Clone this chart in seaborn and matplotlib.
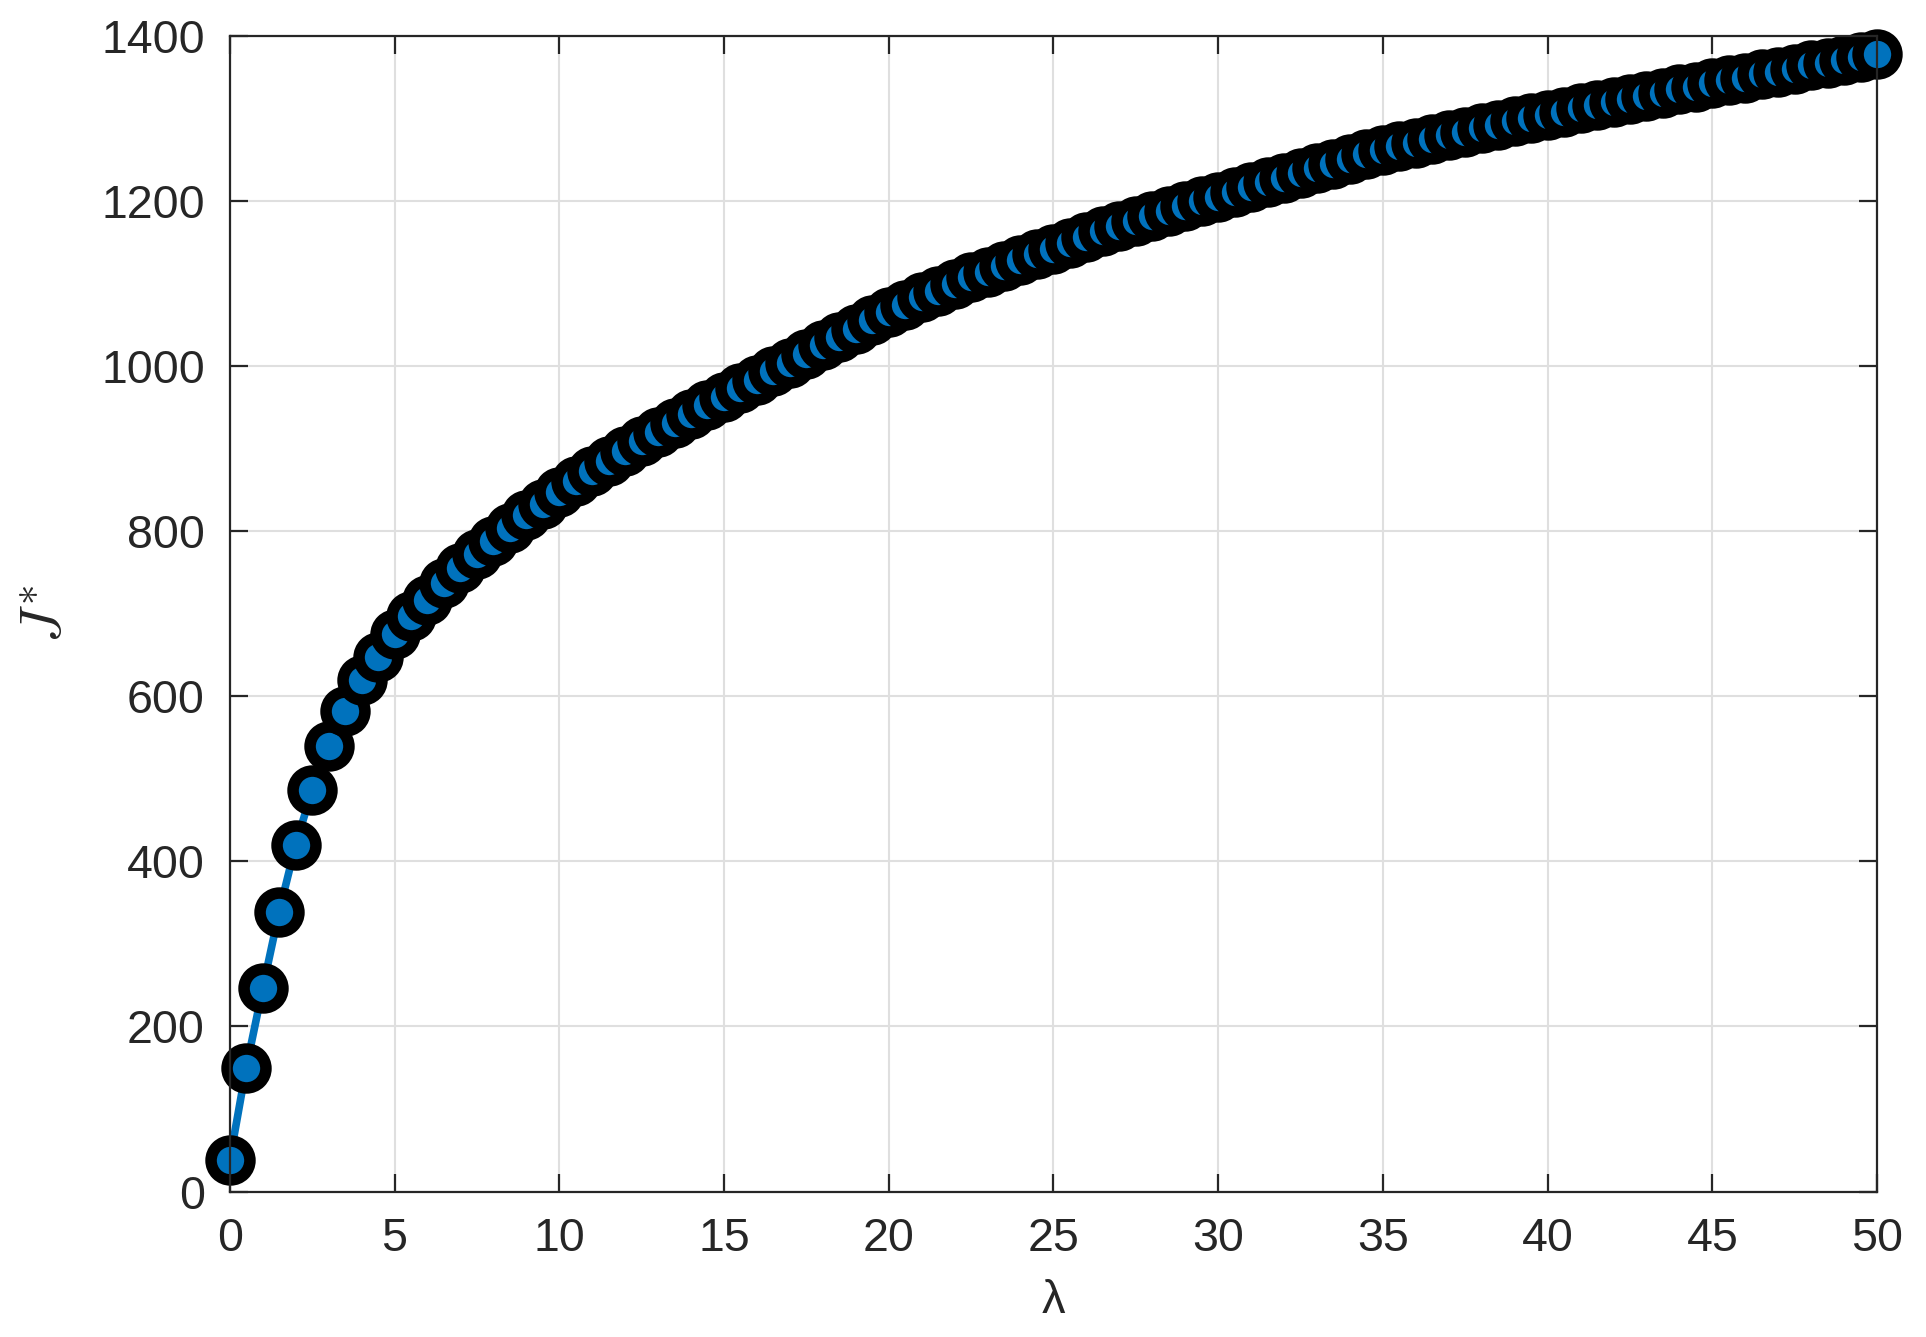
import numpy as np
import pandas as pd
import matplotlib
matplotlib.use("Agg")
import matplotlib.pyplot as plt
import seaborn as sns

# values (lambda step 0.5)
lam = np.arange(0, 50.5, 0.5)
J_star = [
    38, 150, 246, 339, 420, 486, 540, 582, 619, 647,
    675, 697, 717, 737, 755, 772, 788, 804, 819, 833,
    847, 860, 873, 885, 897, 909, 920, 931, 942, 952,
    962, 973, 983, 994, 1004, 1014, 1025, 1035, 1045, 1055,
    1065, 1074, 1083, 1091, 1099, 1107, 1114, 1121, 1128, 1135,
    1142, 1149, 1156, 1163, 1169, 1176, 1182, 1188, 1194, 1200,
    1205, 1211, 1217, 1223, 1228, 1234, 1240, 1245, 1250, 1256,
    1261, 1266, 1270, 1275, 1279, 1283, 1288, 1292, 1296, 1300,
    1304, 1308, 1312, 1316, 1320, 1323, 1327, 1331, 1335, 1338,
    1342, 1346, 1349, 1353, 1356, 1360, 1364, 1367, 1371, 1374,
    1378,
]
x_ticks = list(range(0, 51, 5))
y_ticks = list(range(0, 1401, 200))

df = pd.DataFrame({"lam": lam, "J": J_star})

sns.set_theme(style="ticks")
plt.rcParams["font.family"] = ["Liberation Sans", "DejaVu Sans"]
plt.rcParams["mathtext.fontset"] = "cm"

fig = plt.figure(figsize=(19.26, 13.37), dpi=100)
ax = fig.add_axes([0.1193, 0.1088, 0.8553, 0.8646])

sns.lineplot(data=df, x="lam", y="J", ax=ax, color="#0072BD", linewidth=5.5,
             marker="o", markersize=28, markeredgecolor="black",
             markeredgewidth=8.3, markerfacecolor="#0072BD", clip_on=False)

ax.set_xlim(0, 50)
ax.set_ylim(0, 1400)
ax.set_xticks(x_ticks)
ax.set_yticks(y_ticks)
ax.grid(True, color="#dfdfdf", linewidth=1.5)
ax.set_axisbelow(True)

for s in ax.spines.values():
    s.set_visible(True)
    s.set_linewidth(1.6)
    s.set_color("#262626")
ax.tick_params(direction="in", length=13, width=1.6, color="#262626",
               top=True, right=True, labelsize=33.5, labelcolor="#262626", pad=18)

ax.set_xlabel("λ", fontsize=34, color="#262626")
ax.set_ylabel(r"$J^{*}$", fontsize=42, color="#262626")
ax.xaxis.set_label_coords(0.5, -0.0757)
ax.yaxis.set_label_coords(-0.0945, 0.5)

fig.savefig("out.png", dpi=100)
